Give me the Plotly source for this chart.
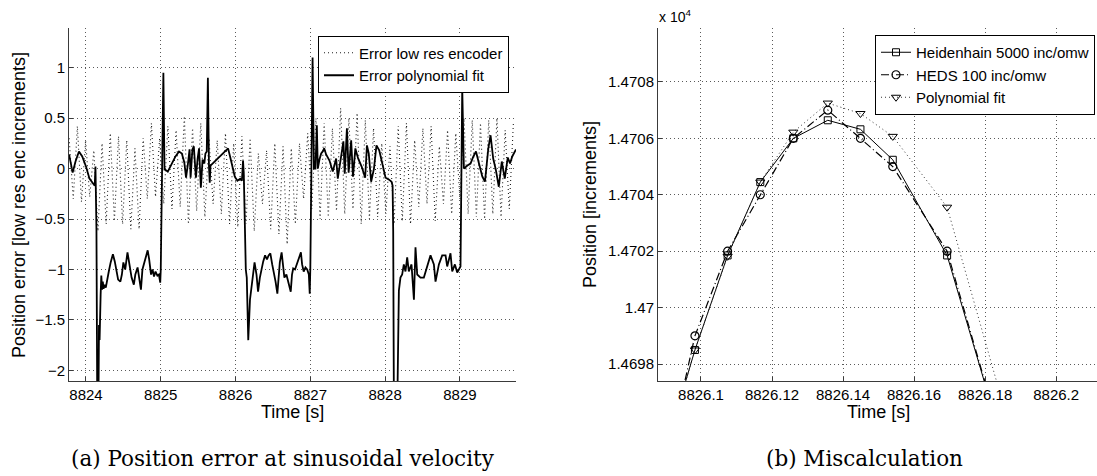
import plotly.graph_objects as go

# ---------------- (a) Position error at sinusoidal velocity ----------------
enc_t = [
    8823.775, 8823.830, 8823.885, 8823.940, 8823.995, 8824.050, 8824.105, 8824.160, 8824.215, 8824.270,
    8824.325, 8824.380, 8824.435, 8824.490, 8824.545, 8824.600, 8824.655, 8824.710, 8824.765, 8824.820,
    8824.875, 8824.930, 8824.985, 8825.040, 8825.095, 8825.150, 8825.205, 8825.260, 8825.315, 8825.370,
    8825.425, 8825.480, 8825.535, 8825.590, 8825.645, 8825.700, 8825.755, 8825.810, 8825.865, 8825.920,
    8825.975, 8826.030, 8826.085, 8826.140, 8826.195, 8826.250, 8826.305, 8826.360, 8826.415, 8826.470,
    8826.525, 8826.580, 8826.635, 8826.690, 8826.745, 8826.800, 8826.855, 8826.910, 8826.965, 8827.020,
    8827.075, 8827.130, 8827.185, 8827.240, 8827.295, 8827.350, 8827.405, 8827.460, 8827.515, 8827.570,
    8827.625, 8827.680, 8827.735, 8827.790, 8827.845, 8827.900, 8827.955, 8828.010, 8828.065, 8828.120,
    8828.175, 8828.230, 8828.285, 8828.340, 8828.395, 8828.450, 8828.505, 8828.560, 8828.615, 8828.670,
    8828.725, 8828.780, 8828.835, 8828.890, 8828.945, 8829.000, 8829.055, 8829.110, 8829.165, 8829.220,
    8829.275, 8829.330, 8829.385, 8829.440, 8829.495, 8829.550, 8829.605, 8829.660, 8829.715,
]
enc_err = [
    0.30, -0.30, 0.42, -0.33, 0.28, -0.28, 0.18, -0.62, 0.25, -0.55,
    0.35, -0.52, 0.32, -0.55, 0.28, -0.60, 0.20, -0.60, 0.30, -0.30,
    0.45, -0.28, 0.30, -0.35, 0.42, -0.40, 0.38, -0.38, 0.52, -0.55,
    0.40, -0.42, 0.45, -0.48, 0.30, -0.35, 0.28, -0.45, 0.35, -0.55,
    0.25, -0.58, 0.32, -0.55, 0.30, -0.62, 0.15, -0.35, 0.18, -0.60,
    0.25, -0.65, 0.22, -0.75, 0.20, -0.55, 0.25, -0.30, 0.35, -0.40,
    0.50, -0.50, 0.45, -0.48, 0.40, -0.42, 0.60, -0.45, 0.50, -0.40,
    0.55, -0.55, 0.48, -0.50, 0.40, -0.48, 0.25, -0.45, 0.22, -0.55,
    0.42, -0.52, 0.45, -0.55, 0.28, -0.38, 0.40, -0.35, 0.42, -0.52,
    0.22, -0.35, 0.38, -0.45, 0.35, -0.30, 0.50, -0.45, 0.48, -0.48,
    0.45, -0.50, 0.48, -0.45, 0.50, -0.48, 0.38, -0.40, 0.45,
]

fit_t = [
    8823.774, 8823.800, 8823.822, 8823.860, 8823.906, 8823.950, 8824.000, 8824.047, 8824.094, 8824.117,
    8824.127, 8824.140, 8824.152, 8824.165, 8824.174, 8824.182, 8824.196, 8824.205, 8824.215, 8824.225,
    8824.235, 8824.250, 8824.265, 8824.285, 8824.305, 8824.330, 8824.360, 8824.385, 8824.400, 8824.430,
    8824.460, 8824.480, 8824.500, 8824.525, 8824.555, 8824.580, 8824.610, 8824.640, 8824.660, 8824.690,
    8824.715, 8824.735, 8824.755, 8824.780, 8824.810, 8824.825, 8824.845, 8824.870, 8824.890, 8824.910,
    8824.930, 8824.955, 8824.975, 8824.993, 8825.000, 8825.020, 8825.035, 8825.050, 8825.057, 8825.094,
    8825.151, 8825.197, 8825.244, 8825.282, 8825.315, 8825.338, 8825.362, 8825.385, 8825.399, 8825.423,
    8825.442, 8825.456, 8825.470, 8825.493, 8825.512, 8825.536, 8825.559, 8825.583, 8825.597, 8825.615,
    8825.630, 8825.645, 8825.655, 8825.665, 8825.900, 8825.930, 8825.955, 8825.990, 8826.025, 8826.062,
    8826.085, 8826.100, 8826.110, 8826.120, 8826.128, 8826.137, 8826.150, 8826.170, 8826.193, 8826.208,
    8826.231, 8826.254, 8826.280, 8826.301, 8826.325, 8826.348, 8826.370, 8826.395, 8826.420, 8826.442,
    8826.465, 8826.490, 8826.512, 8826.535, 8826.559, 8826.575, 8826.592, 8826.616, 8826.635, 8826.653,
    8826.680, 8826.700, 8826.720, 8826.738, 8826.755, 8826.771, 8826.795, 8826.818, 8826.845, 8826.874,
    8826.890, 8826.911, 8826.935, 8826.958, 8826.980, 8826.992, 8827.000, 8827.012, 8827.030, 8827.048,
    8827.068, 8827.087, 8827.100, 8827.122, 8827.145, 8827.166, 8827.185, 8827.211, 8827.256, 8827.300,
    8827.345, 8827.367, 8827.400, 8827.442, 8827.460, 8827.489, 8827.512, 8827.546, 8827.570, 8827.602,
    8827.639, 8827.686, 8827.733, 8827.757, 8827.781, 8827.813, 8827.851, 8827.884, 8827.921, 8827.968,
    8828.006, 8828.053, 8828.086, 8828.100, 8828.108, 8828.118, 8828.160, 8828.184, 8828.205, 8828.228,
    8828.250, 8828.272, 8828.295, 8828.317, 8828.353, 8828.385, 8828.406, 8828.429, 8828.473, 8828.518,
    8828.562, 8828.607, 8828.652, 8828.674, 8828.719, 8828.763, 8828.808, 8828.830, 8828.874, 8828.897,
    8828.933, 8828.964, 8828.986, 8829.008, 8829.031, 8829.053, 8829.100, 8829.142, 8829.180, 8829.215,
    8829.255, 8829.300, 8829.335, 8829.380, 8829.410, 8829.445, 8829.480, 8829.520, 8829.560, 8829.600,
    8829.640, 8829.670, 8829.700, 8829.750,
]
fit_err = [
    0.14, 0.05, -0.04, 0.07, 0.17, 0.12, 0.02, -0.10, -0.14, -0.17,
    0.02, -0.60, -2.50, -2.50, -1.55, -1.70, -1.25, -1.06, -1.20, -1.12,
    -1.19, -1.15, -1.18, -1.08, -1.02, -0.93, -0.85, -0.92, -0.97, -1.10,
    -1.12, -1.05, -0.93, -1.00, -0.83, -0.95, -1.08, -1.15, -1.05, -0.98,
    -1.12, -1.20, -1.00, -0.93, -0.85, -0.81, -0.90, -1.05, -1.00, -1.07,
    -1.02, -1.06, -1.05, -1.13, -1.00, 0.00, 0.95, -0.01, -0.01, -0.03,
    0.06, 0.12, 0.17, 0.15, 0.06, -0.09, 0.04, 0.19, -0.09, 0.19,
    0.22, 0.01, -0.09, 0.10, 0.20, -0.19, 0.09, 0.05, 0.15, 0.17,
    0.90, 0.01, -0.14, 0.03, 0.20, 0.11, 0.02, -0.08, -0.12, -0.10,
    -0.12, 0.08, -0.05, -0.55, -0.62, -1.00, -1.08, -1.70, -1.30, -1.20,
    -1.05, -0.93, -1.05, -1.22, -1.08, -0.98, -0.92, -0.86, -0.90, -0.86,
    -0.84, -0.95, -1.02, -1.12, -1.24, -1.05, -0.93, -0.83, -0.95, -1.08,
    -1.05, -1.10, -1.15, -1.22, -1.05, -0.99, -1.00, -0.95, -0.88, -0.83,
    -0.95, -1.02, -0.98, -1.00, -1.05, -1.24, -0.98, 0.00, 1.10, 0.00,
    0.00, 0.43, 0.00, 0.09, 0.15, 0.17, 0.20, 0.14, 0.08, -0.03,
    0.10, -0.10, 0.05, 0.27, -0.05, 0.40, -0.04, 0.28, -0.08, 0.20,
    0.10, 0.02, -0.09, 0.23, 0.15, -0.13, 0.00, 0.23, 0.18, 0.02,
    -0.09, -0.11, -0.13, -0.17, -0.62, -2.50, -2.50, -1.21, -1.08, -1.05,
    -0.95, -1.02, -0.88, -1.02, -0.95, -1.30, -0.78, -1.05, -1.08, -1.08,
    -0.98, -0.86, -0.95, -1.12, -0.95, -0.86, -0.86, -0.97, -0.84, -1.02,
    -0.95, -1.03, -1.00, -0.97, 0.80, 0.00, 0.03, 0.05, 0.12, 0.17,
    0.05, -0.08, -0.13, 0.20, 0.33, 0.10, -0.01, -0.18, 0.07, -0.10,
    0.11, 0.05, 0.12, 0.19,
]

a_xticks = [8824, 8825, 8826, 8827, 8828, 8829]
a_yticks = [-2, -1.5, -1, -0.5, 0, 0.5, 1]
a_yticktext = ["\u22122", "\u22121.5", "\u22121", "\u22120.5", "0", "0.5", "1"]

# ---------------- (b) Miscalculation ----------------
b_t = [8826.0891, 8826.0983, 8826.1075, 8826.1167, 8826.1260, 8826.1357,
       8826.1449, 8826.1540, 8826.1693, 8826.1877]
heid_pos = [14694.6, 14698.5, 14701.85, 14704.45, 14706.0, 14706.64,
            14706.32, 14705.24, 14701.85, 14694.0]
heds_pos = [14693.8, 14699.0, 14702.0, 14704.0, 14706.0, 14707.0,
            14706.0, 14705.0, 14702.0, 14694.0]
poly_pos = [14694.5, 14698.5, 14701.82, 14704.45, 14706.22, 14707.25,
            14706.88, 14706.07, 14703.56, 14695.4]

b_xticks = [8826.10, 8826.12, 8826.14, 8826.16, 8826.18, 8826.20]
b_xticktext = ["8826.1", "8826.12", "8826.14", "8826.16", "8826.18", "8826.2"]
b_yticks = [14698, 14700, 14702, 14704, 14706, 14708]
b_yticktext = ["1.4698", "1.47", "1.4702", "1.4704", "1.4706", "1.4708"]

W, H = 1097, 476
FONT = "Liberation Sans, Arial, sans-serif"
SERIF = "DejaVu Serif, serif"
AX = "#3a3a3a"

fig = go.Figure()

fig.add_trace(go.Scatter(
    x=enc_t, y=enc_err, mode="lines", name="Error low res encoder",
    line=dict(color="#1e1e1e", width=1.1, dash="1px,3px"),
    xaxis="x", yaxis="y", legend="legend"))
fig.add_trace(go.Scatter(
    x=fit_t, y=fit_err, mode="lines", name="Error polynomial fit",
    line=dict(color="black", width=1.8),
    xaxis="x", yaxis="y", legend="legend"))

fig.add_trace(go.Scatter(
    x=b_t, y=heid_pos, mode="lines+markers", name="Heidenhain 5000 inc/omw",
    line=dict(color="black", width=1),
    marker=dict(symbol="square-open", size=7, color="black", line=dict(width=1)),
    xaxis="x2", yaxis="y2", legend="legend2"))
fig.add_trace(go.Scatter(
    x=b_t, y=heds_pos, mode="lines+markers", name="HEDS 100 inc/omw",
    line=dict(color="black", width=1.2, dash="8px,3px,1px,3px"),
    marker=dict(symbol="circle-open", size=8, color="black", line=dict(width=1.2)),
    xaxis="x2", yaxis="y2", legend="legend2"))
fig.add_trace(go.Scatter(
    x=b_t, y=poly_pos, mode="lines+markers", name="Polynomial fit",
    line=dict(color="#333333", width=1, dash="1px,3px"),
    marker=dict(symbol="triangle-down-open", size=8, color="black", line=dict(width=1)),
    xaxis="x2", yaxis="y2", legend="legend2"))

def ax(domain, rng, tickvals, ticktext=None, anchor=None):
    d = dict(domain=domain, range=rng, tickmode="array", tickvals=tickvals,
             showline=True, linecolor=AX, linewidth=1, mirror=False,
             ticks="inside", ticklen=4, tickcolor=AX,
             showgrid=True, gridcolor="#5a5a5a", gridwidth=1, griddash="1px,3px",
             zeroline=False, tickfont=dict(family=FONT, size=15, color="black"),
             anchor=anchor)
    if ticktext is not None:
        d["ticktext"] = ticktext
    return d

ydom = [(H - 381) / H, (H - 28.3) / H]
fig.update_layout(
    width=W, height=H, margin=dict(l=0, r=0, t=0, b=0),
    paper_bgcolor="white", plot_bgcolor="white",
    xaxis=ax([69 / W, 516 / W], [8823.773, 8829.75], a_xticks, anchor="y"),
    yaxis=ax(ydom, [-2.105, 1.39], a_yticks, a_yticktext, anchor="x"),
    xaxis2=ax([658 / W, 1.0], [8826.0879, 8826.2115], b_xticks, b_xticktext, anchor="y2"),
    yaxis2=ax(ydom, [14697.4, 14709.9], b_yticks, b_yticktext, anchor="x2"),
    legend=dict(x=509 / W, xanchor="right", y=(H - 35.5) / H, yanchor="top",
                bgcolor="white", bordercolor="black", borderwidth=1,
                font=dict(family=FONT, size=15, color="black"),
                tracegroupgap=0, itemwidth=30),
    legend2=dict(x=1095 / W, xanchor="right", y=(H - 35) / H, yanchor="top",
                 bgcolor="white", bordercolor="black", borderwidth=1,
                 font=dict(family=FONT, size=15, color="black"),
                 tracegroupgap=0, itemwidth=30),
    showlegend=True,
)

def ann(text, x, y, size, angle=0, family=FONT, xanchor="center"):
    fig.add_annotation(text=text, x=x / W, y=(H - y) / H, xref="paper", yref="paper",
                       showarrow=False, textangle=angle, xanchor=xanchor, yanchor="middle",
                       font=dict(family=family, size=size, color="black"))

ann("Position error [low res enc increments]", 19, 205, 18, angle=-90)
ann("Time [s]", 292.5, 412, 18)
ann("Position [increments]", 590, 205, 18, angle=-90)
ann("Time [s]", 878, 412, 18)
ann("x 10<sup>4</sup>", 657, 16, 14, xanchor="left")
ann("(a) Position error at sinusoidal velocity", 282.5, 458, 21.5, family=SERIF)
ann("(b) Miscalculation", 864.6, 458, 21.5, family=SERIF)

fig.write_html("out.html")
